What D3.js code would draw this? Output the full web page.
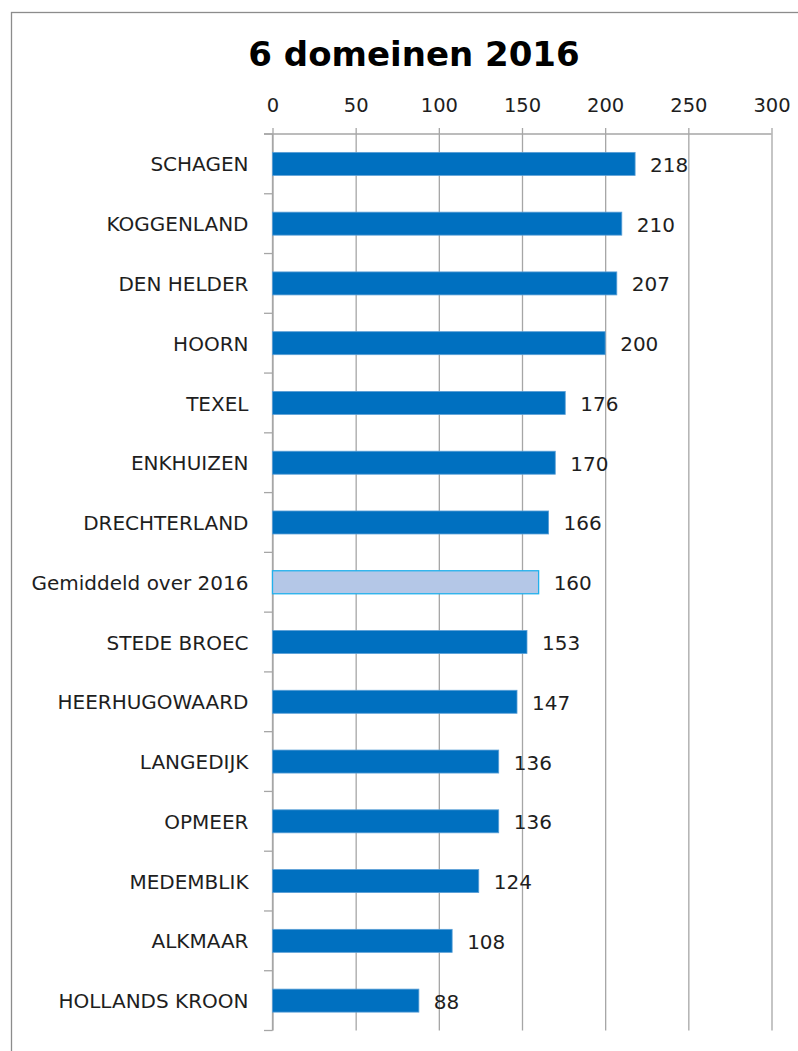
<!DOCTYPE html>
<html>
<head>
<meta charset="utf-8">
<script src="https://cdn.jsdelivr.net/npm/d3@7"></script>
<style>
  html, body { margin: 0; padding: 0; background: #fff; }
  svg { display: block; }
  text { font-family: "DejaVu Sans", sans-serif; fill: #1e1e1e; }
</style>
</head>
<body>
<svg id="chart" width="798" height="1051"></svg>
<script>
const title = "6 domeinen 2016";
const categories = ["SCHAGEN","KOGGENLAND","DEN HELDER","HOORN","TEXEL","ENKHUIZEN","DRECHTERLAND","Gemiddeld over 2016","STEDE BROEC","HEERHUGOWAARD","LANGEDIJK","OPMEER","MEDEMBLIK","ALKMAAR","HOLLANDS KROON"];
const values = [218,210,207,200,176,170,166,160,153,147,136,136,124,108,88];
const averageCategory = "Gemiddeld over 2016";
const xTicks = [0,50,100,150,200,250,300];

const W = 798, H = 1051;
const margin = {top: 134, left: 272.5, right: 26.5, bottom: 20.5};
const iw = W - margin.left - margin.right;
const ih = H - margin.top - margin.bottom;

const svg = d3.select("#chart");

// outer chart border
svg.append("rect")
  .attr("x", 11.5).attr("y", 12.5)
  .attr("width", W + 20).attr("height", H + 20)
  .attr("fill", "none").attr("stroke", "#8c8c8c").attr("stroke-width", 1.3);

svg.append("text")
  .attr("x", 414).attr("y", 66)
  .attr("text-anchor", "middle")
  .style("font-size", "34px").style("font-weight", "bold").style("fill", "#000")
  .text(title);

const g = svg.append("g").attr("transform", `translate(${margin.left},${margin.top})`);

const x = d3.scaleLinear().domain([0, 300]).range([0, iw]);
const y = d3.scaleBand().domain(categories).range([0, ih])
  .paddingInner(0.615).paddingOuter(0.3075);

// top axis with gridlines
const xAxis = d3.axisTop(x).tickValues(xTicks)
  .tickSizeInner(-ih).tickSizeOuter(0).tickPadding(22);
const gx = g.append("g").call(xAxis);
gx.select(".domain").remove();
gx.selectAll(".tick line")
  .attr("y1", -6)
  .attr("stroke", "#a6a6a6").attr("stroke-width", 1.3);
gx.selectAll(".tick text")
  .style("font-size", "19.5px").style("font-family", "DejaVu Sans, sans-serif")
  .attr("fill", "#1e1e1e");

// top horizontal axis line (extends left as a tick)
g.append("line")
  .attr("x1", x(0) - 8.5).attr("x2", x(300))
  .attr("y1", 0).attr("y2", 0)
  .attr("stroke", "#a6a6a6").attr("stroke-width", 1.3);

// left axis line and category boundary ticks
g.append("line")
  .attr("x1", x(0)).attr("x2", x(0))
  .attr("y1", 0).attr("y2", ih)
  .attr("stroke", "#a6a6a6").attr("stroke-width", 1.3);
const bounds = categories.map((c) => y(c) - (y.step() - y.bandwidth()) / 2);
bounds.push(ih);
g.selectAll(".ytick").data(bounds).enter().append("line")
  .attr("x1", x(0) - 8.5).attr("x2", x(0))
  .attr("y1", d => d).attr("y2", d => d)
  .attr("stroke", "#a6a6a6").attr("stroke-width", 1.3);

// category labels
const yAxis = d3.axisLeft(y).tickSize(0).tickPadding(24);
const gy = g.append("g").call(yAxis);
gy.select(".domain").remove();
gy.selectAll(".tick text")
  .style("font-size", "20px").style("font-family", "DejaVu Sans, sans-serif")
  .attr("fill", "#1e1e1e").attr("dy", "0.38em");

// bars
const data = categories.map((c, i) => ({cat: c, val: values[i]}));
g.selectAll(".bar").data(data).enter().append("rect")
  .attr("x", x(0))
  .attr("y", d => y(d.cat))
  .attr("width", d => x(d.val) - x(0))
  .attr("height", y.bandwidth())
  .attr("fill", d => d.cat === averageCategory ? "#b4c7e7" : "#0070c0")
  .attr("stroke", d => d.cat === averageCategory ? "#22b0ec" : "#5a9fd6")
  .attr("stroke-width", d => d.cat === averageCategory ? 1.3 : 0.8);

// value labels
g.selectAll(".val").data(data).enter().append("text")
  .attr("x", d => x(d.val) + 15)
  .attr("y", d => y(d.cat) + y.bandwidth() / 2)
  .attr("dy", "0.4em")
  .style("font-size", "20px")
  .text(d => d.val);
</script>
</body>
</html>
